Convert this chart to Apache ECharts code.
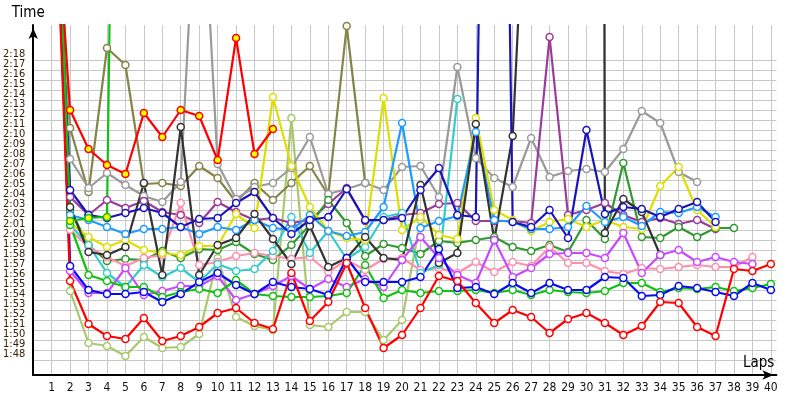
<!DOCTYPE html>
<html><head><meta charset="utf-8">
<script src="https://cdn.jsdelivr.net/npm/echarts@6/dist/echarts.min.js"></script>
<style>html,body{margin:0;padding:0;background:#fff}#c{width:800px;height:400px}</style>
</head><body><div id="c"></div>
<script>
const LAPS = [1,2,3,4,5,6,7,8,9,10,11,12,13,14,15,16,17,18,19,20,21,22,23,24,25,26,27,28,29,30,31,32,33,34,35,36,37,38,39,40];
const Y_TICKS = [108,109,110,111,112,113,114,115,116,117,118,119,120,121,122,123,124,125,126,127,128,129,130,131,132,133,134,135,136,137,138];
const Y_MIN = 106.5, Y_MAX = 141.5;

// lap times in seconds, index 0 = lap 1
const lightGreen = [175,114.9,109.7,109.4,108.4,110.3,109.2,109.3,110.6,118.2,112.3,111.4,111.0,132.2,111.5,111.3,112.8,112.8,110.0,112.0,122.0];
const olive = [158,131.2,124.8,139.2,137.5,125.6,125.7,125.4,127.4,126.2,123.8,125.7,124.0,125.7,127.4,124.5,141.4,125.7];
const gray = [172,128.1,125.2,126.7,125.5,124.4,123.8,125.8,162,127.6,124.1,125.3,125.7,127.2,130.3,124.6,125.1,125.7,125.0,127.3,127.4,124.3,137.3,128.2,126.2,125.3,130.2,126.3,126.9,127.1,126.8,129.1,132.9,131.7,126.8,125.8];
const purple = [162,124.3,122.5,124.0,123.2,123.9,122.8,122.5,121.7,123.8,122.8,122.0,122.2,121.7,122.0,123.6,125.2,121.9,122.0,122.5,122.7,123.6,123.7,121.9,121.9,121.9,121.7,140.3,122.5,123.0,123.7,122.5,121.8,122.2,121.6,122.0,121.1];
const darkGreen = [167,123.0,119.5,117.9,118.1,118.0,118.9,118.2,119.1,119.0,119.8,118.6,118.0,119.5,121.5,124.0,121.7,118.4,119.6,119.2,118.6,119.9,119.7,120.0,120.3,119.3,118.9,119.5,118.8,122.0,120.1,127.7,120.3,120.2,121.3,120.3,121.2,121.2];
const pink = [166,121.0,119.3,118.3,117.4,118.2,118.5,123.7,117.5,117.8,118.4,118.7,118.4,118.1,118.3,116.8,118.0,117.0,118.1,118.2,117.0,117.2,116.7,117.8,116.8,117.8,117.4,119.3,117.7,117.7,116.9,116.6,117.2,117.1,117.3,117.5,117.3,117.3,118.3];
const cyan = [173,121.5,119.5,116.7,115.3,117.5,116.3,117.2,115.8,117.6,116.9,117.1,118.9,122.3,118.7,120.9,118.1,119.3,122.3,122.7,116.7,117.5,134.1];
const yellow = [165,121.7,120.3,119.3,120.0,119.0,118.7,118.5,119.4,119.4,122.6,121.2,134.3,127.4,123.3,120.9,120.2,120.0,134.2,121.0,122.3,120.5,120.1,132.2,123.0,122.0,120.9,121.8,122.1,121.3,122.0,121.3,121.1,125.4,127.3,123.0,121.3];
const lightBlue = [163,122.5,122.0,121.3,120.6,121.1,121.1,121.3,120.6,121.3,121.0,122.0,121.2,121.0,122.5,120.9,120.4,120.8,123.3,131.7,121.2,121.9,122.4,130.8,122.0,121.8,121.1,121.1,121.3,123.4,121.8,122.3,121.4,122.8,122.7,123.3,122.3];
const black = [168,123.3,118.8,118.5,119.3,125.7,116.5,131.3,116.5,119.5,120.2,122.6,120.1,117.6,121.4,117.3,118.2,120.3,118.2,118.0,125.5,117.7,118.7,131.6,120.0,130.4,169,null,null,900,120.7,124.1,122.8,118.5];
const navy = [164,125.0,122.5,122.2,122.7,123.2,122.7,121.3,122.1,122.2,123.7,124.8,122.2,120.6,122.0,122.3,125.1,122.0,122.0,122.2,125.0,127.2,122.5,122.3,250,121.8,121.3,123.0,120.2,131.0,122.6,123.3,123.1,122.3,123.1,123.8,121.8];
const violet = [169,116.9,114.7,114.7,117.2,114.5,114.9,115.4,115.4,116.4,114.0,114.6,115.4,116.4,115.1,116.1,115.3,116.1,115.3,118.0,120.3,118.2,116.5,115.7,120.0,116.3,117.2,118.6,118.7,118.7,118.2,120.7,116.7,118.5,119.0,117.8,118.3,117.8,117.6];
const green = [171,121.5,116.5,115.9,115.3,115.3,114.3,114.8,115.1,114.7,116.0,114.6,114.4,114.3,114.3,114.4,114.7,117.5,114.2,115.0,114.7,114.9,114.9,115.0,114.7,115.0,114.5,115.0,114.8,114.7,114.9,115.7,115.7,114.8,115.2,115.1,115.3,114.9,115.2,115.6];
const blue = [166,117.4,115.0,114.6,114.6,114.8,113.8,114.6,115.8,116.7,115.5,114.6,115.8,115.3,115.1,114.5,118.2,115.8,115.8,115.8,116.3,119.1,115.2,115.3,114.6,115.7,114.7,115.7,115.0,115.0,116.3,116.2,114.4,114.5,115.4,115.2,114.8,114.4,115.7,115.0];
const greenYellow = [170,121.9,122.2,122.3,263];
const redYellow = [160,133.0,129.1,127.5,126.6,132.7,130.3,133.0,132.4,128.0,140.2,128.6,131.1];
const red = [165,115.9,111.6,110.4,110.1,112.2,109.9,110.4,111.3,112.7,113.2,111.7,111.1,116.7,111.9,113.8,117.7,113.2,109.2,110.5,113.2,116.4,115.9,113.7,111.7,113.0,112.3,110.7,112.1,112.7,111.7,110.5,111.4,113.8,113.7,111.3,110.4,117.1,116.9,117.6];

const SERIES = [
  ['lightGreen', lightGreen, '#a9c86c', '#ffffff'],
  ['olive', olive, '#84844a', '#ffffff'],
  ['gray', gray, '#9a9a9a', '#ffffff'],
  ['purple', purple, '#9a3c9a', '#ffffff'],
  ['darkGreen', darkGreen, '#2f9a2f', '#ffffff'],
  ['pink', pink, '#ff8fae', '#ffffff'],
  ['cyan', cyan, '#33cccc', '#ffffff'],
  ['yellow', yellow, '#dede00', '#ffffff'],
  ['lightBlue', lightBlue, '#1e9bff', '#ffffff'],
  ['black', black, '#333333', '#ffffff'],
  ['navy', navy, '#1a14b8', '#ffffff'],
  ['violet', violet, '#c84aff', '#ffffff'],
  ['green', green, '#11c011', '#ffffff'],
  ['blue', blue, '#0a0af0', '#ffffff'],
  ['greenYellow', greenYellow, '#11c011', '#ffff00'],
  ['redYellow', redYellow, '#ff0000', '#ffff00'],
  ['red', red, '#ff0000', '#ffffff']
];

const FONT = 'Tahoma, "DejaVu Sans Condensed", "DejaVu Sans", sans-serif';
function fmt(v){
  if (Math.abs(v - Math.round(v)) > 1e-6) return '';
  const m = Math.floor(v/60); const s = Math.round(v - m*60); return m + ':' + (s<10?'0':'') + s;
}

const chart = echarts.init(document.getElementById('c'), null, {renderer:'canvas'});
chart.setOption({
  animation: false,
  backgroundColor: '#ffffff',
  grid: {left: 30, right: 23.6, top: 25, bottom: 25, containLabel: false},
  xAxis: {
    type: 'value', min: 0, max: 40.3,
    name: 'Laps', nameLocation: 'end', nameGap: -2,
    nameTextStyle: {fontFamily: FONT, fontSize: 15, color: '#000', align: 'right', verticalAlign: 'bottom', padding: [0,0,4,0]},
    axisLine: {show: true, lineStyle: {color: '#000', width: 2}, symbol: ['none','arrow'], symbolSize: [7,11], symbolOffset: [0,-3]},
    axisTick: {show: false, customValues: LAPS},
    axisLabel: {customValues: LAPS, color: '#111', fontFamily: FONT, fontSize: 12, margin: 7, showMinLabel: true, showMaxLabel: true, hideOverlap: false},
    splitLine: {show: true, lineStyle: {color: '#c8c8c8', width: 1}}
  },
  yAxis: {
    type: 'value', min: Y_MIN, max: Y_MAX,
    name: 'Time', nameLocation: 'end', nameGap: 4,
    nameTextStyle: {fontFamily: FONT, fontSize: 15, color: '#000', align: 'center', padding: [0,10,0,0]},
    axisLine: {show: true, lineStyle: {color: '#000', width: 2}, symbol: ['none','arrow'], symbolSize: [7,11], symbolOffset: [0,-3]},
    axisTick: {show: false, customValues: Y_TICKS},
    axisLabel: {customValues: [Y_MIN].concat(Y_TICKS, [Y_MAX]), formatter: fmt, color: '#3a2000', fontFamily: FONT, fontSize: 11, margin: 8, verticalAlign: 'bottom', showMinLabel: false, showMaxLabel: false, hideOverlap: false},
    splitLine: {show: true, lineStyle: {color: '#c8c8c8', width: 1}}
  },
  series: SERIES.map(([name, arr, col, fill]) => ({
    name, type: 'line',
    data: arr.map((v, i) => [LAPS[i], v == null ? '-' : v]),
    symbol: 'circle', symbolSize: 7, showAllSymbol: true,
    lineStyle: {color: col, width: 2.2},
    itemStyle: {color: fill, borderColor: col, borderWidth: 1.5},
    connectNulls: false, clip: true, silent: true
  }))
});
</script></body></html>
